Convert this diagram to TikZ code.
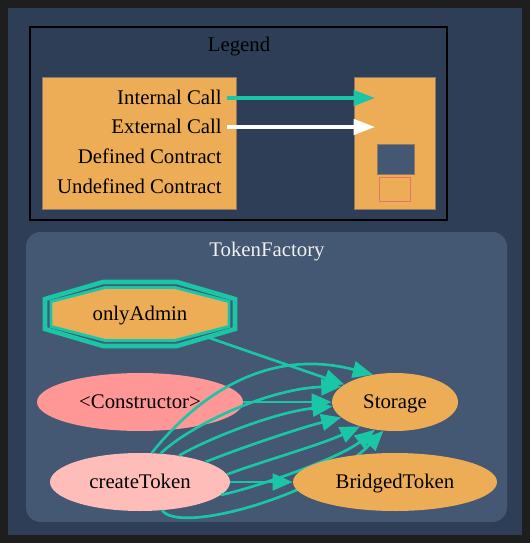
\documentclass[tikz,border=0pt]{standalone}
\usepackage{fontspec}
\setmainfont{Liberation Serif}
\usetikzlibrary{arrows.meta,shapes.geometric}
\definecolor{bgdark}{HTML}{1E1E1E}
\definecolor{bgblue}{HTML}{2E3E56}
\definecolor{clusterbg}{HTML}{445773}
\definecolor{orangefill}{HTML}{EDAD56}
\definecolor{teal}{HTML}{1BC6A6}
\definecolor{consfill}{HTML}{FF9797}
\definecolor{pubfill}{HTML}{FFBDB9}
\definecolor{undefborder}{HTML}{E8726D}
\definecolor{whitetext}{HTML}{F0F0F0}
\definecolor{boxedge}{HTML}{8C7A62}
\pgfdeclarelayer{bottom}
\pgfdeclarelayer{edges}
\pgfsetlayers{bottom,edges,main}
\tikzset{
  txt/.style={font=\fontsize{15.6}{18}\selectfont, text=black, inner sep=0pt, text height=10.9pt, text depth=0.5pt},
  fnode/.style={ellipse, inner sep=0pt, font=\fontsize{15.6}{18}\selectfont, text=black},
  ftext/.style={font=\fontsize{15.6}{18}\selectfont, text=black, inner sep=0pt, text height=10.9pt, text depth=0.5pt},
  callarrow/.style={draw=teal, line width=2pt, -{Triangle[length=15pt,width=12.5pt]}},
  legarrow/.style={line width=2.5pt, -{Triangle[length=16pt,width=11.5pt]}},
}
\begin{document}
\begin{tikzpicture}[x=0.75pt,y=-0.75pt]
\useasboundingbox (0,0) rectangle (530,543);
\begin{pgfonlayer}{bottom}
\fill[bgdark] (0,0) rectangle (530,543);
\fill[bgblue] (8,8) rectangle (522,535);
% legend
\draw[black, line width=1.1pt] (30,27) rectangle (447,220);
\node[txt] (legtitle) at (239,45) {Legend};
\node[draw=boxedge, fill=orangefill, line width=0.6pt, minimum width=194*0.75pt, minimum height=132*0.75pt, inner sep=0pt] (lbox) at (139,143) {};
\node[draw=boxedge, fill=orangefill, line width=0.6pt, minimum width=81*0.75pt, minimum height=132*0.75pt, inner sep=0pt] (rbox) at (394.5,143) {};
\node[draw=boxedge, fill=clusterbg, line width=0.6pt, minimum width=37*0.75pt, minimum height=30*0.75pt, inner sep=0pt] (defsq) at (395.5,159) {};
\node[draw=undefborder, line width=1.3pt, minimum width=31*0.75pt, minimum height=24*0.75pt, inner sep=0pt] (undefsq) at (395,189.5) {};
\node[txt, anchor=east] (lint) at (222,98) {Internal Call};
\node[txt, anchor=east] (lext) at (222,127) {External Call};
\node[txt, anchor=east] (ldef) at (222,157) {Defined Contract};
\node[txt, anchor=east] (lund) at (222,187) {Undefined Contract};
\coordinate (pint) at (375,98);
\coordinate (pext) at (375,127);
\draw[legarrow, draw=teal, fill=teal] ([xshift=3.75pt]lint.east) -- (pint);
\draw[legarrow, draw=white, fill=white] ([xshift=3.75pt]lext.east) -- (pext);
% cluster
\fill[clusterbg, rounded corners=11pt] (26,232) rectangle (507,522);
\node[txt, text=whitetext] (ctitle) at (267,250) {TokenFactory};
% onlyAdmin double octagon
\begin{scope}[shift={(140,314)}]
\draw[teal, line width=3.4pt] (-95,-15) -- (-37,-32) -- (37,-32) -- (95,-15) -- (95,15) -- (37,32) -- (-37,32) -- (-95,15) -- cycle;
\draw[teal, fill=orangefill, line width=2.2pt] (-89,-12.5) -- (-35,-26.5) -- (35,-26.5) -- (89,-12.5) -- (89,12.5) -- (35,26.5) -- (-35,26.5) -- (-89,12.5) -- cycle;
\end{scope}
\node[fnode, minimum width=194*0.75pt, minimum height=68*0.75pt] (oa) at (140,314) {};
\node[ftext] (oat) at (oa) {onlyAdmin};
\node[fnode, fill=consfill, minimum width=206*0.75pt, minimum height=58*0.75pt] (cons) at (140,402) {};
\node[ftext] (const) at (cons) {<Constructor>};
\node[fnode, fill=orangefill, minimum width=126*0.75pt, minimum height=58*0.75pt] (st) at (395,402) {};
\node[ftext] (stt) at (st) {Storage};
\node[fnode, fill=pubfill, minimum width=180*0.75pt, minimum height=58*0.75pt] (ct) at (140,482) {};
\node[ftext] (ctt) at (ct) {createToken};
\end{pgfonlayer}
\node[fnode, fill=orangefill, minimum width=204*0.75pt, minimum height=58*0.75pt] (bt) at (395,482) {};
\node[ftext] (btt) at (bt) {BridgedToken};
\begin{pgfonlayer}{edges}
\draw[callarrow] (oa) -- (st);
\draw[callarrow] (cons) -- (st);
\draw[callarrow] (ct) -- (bt);
\draw[callarrow] (ct.68) .. controls (190,405) and (260,345) .. (st.129);
\draw[callarrow] (ct.54) .. controls (190,425) and (270,388) .. (st.164);
\draw[callarrow] (ct.34) .. controls (205,440) and (275,412) .. (st.184);
\draw[callarrow] (ct.17) .. controls (240,448) and (300,428) .. (st.196);
\draw[callarrow] (ct.5) .. controls (260,462) and (320,445) .. (st.215);
\draw[callarrow] (ct.-9) .. controls (255,488) and (340,458) .. (st.234);
\draw[callarrow] (ct.-52) .. controls (180,535) and (320,495) .. (st.248);
\end{pgfonlayer}
\end{tikzpicture}
\end{document}
